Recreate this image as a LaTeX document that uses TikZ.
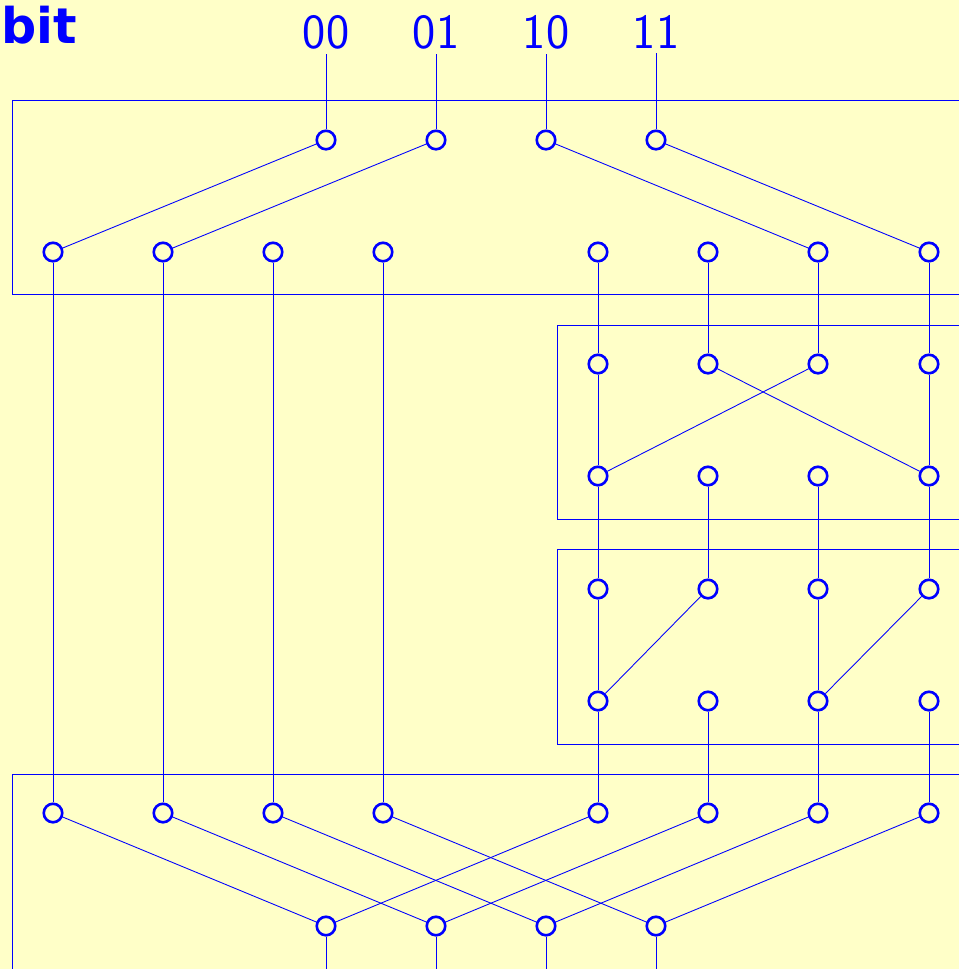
\documentclass[tikz,border=0pt]{standalone}
\usepackage{fontspec}
\newfontfamily\bitfont{DejaVu Sans}
\definecolor{Wire}{HTML}{0000FF}
\definecolor{Pad}{HTML}{FFFFC8}
\tikzset{
  qnode/.style={
    circle, draw=Wire, line width=1.5pt, fill=Pad,
    minimum size=3.7mm, inner sep=0pt
  },
  keylabel/.style={
    text=Wire, font=\sffamily\fontsize{28}{28}\selectfont,
    inner sep=1mm, anchor=base
  },
  wire/.style={draw=Wire, line width=0.5pt},
  stage/.style={draw=Wire, line width=0.45pt}
}

\begin{document}
\begin{tikzpicture}[x=0.2mm,y=-0.2mm]
    \fill[Pad] (0,0) rectangle (959,969);
    \useasboundingbox (0,0) rectangle (959,969);
    \clip (0,0) rectangle (959,969);
    % stage frames
    \draw[stage] (12,100) rectangle (980,294);
    \draw[stage] (557,325) rectangle (980,519);
    \draw[stage] (557,549) rectangle (980,744);
    \draw[stage] (12,774) rectangle (980,990);
    % labels
    \node[anchor=base west, inner sep=0pt, text=Wire,
          font=\bitfont\bfseries\fontsize{28}{28}\selectfont] (title) at (1,43) {bit};
    \node[keylabel] (l0) at (326,48) {00};
    \node[keylabel] (l1) at (436,48) {01};
    \node[keylabel] (l2) at (546,48) {10};
    \node[keylabel] (l3) at (656,48) {11};
    % nodes
    \foreach \i/\x in {0/326,1/436,2/546,3/656} {
      \node[qnode] (a\i) at (\x,140) {};
      \node[qnode] (h\i) at (\x,926) {};
      \coordinate (o\i) at (\x,975);
    }
    \foreach \i/\x in {0/53,1/163,2/273,3/383,4/598,5/708,6/818,7/929} {
      \node[qnode] (b\i) at (\x,252) {};
      \node[qnode] (g\i) at (\x,813) {};
    }
    \foreach \i/\x in {4/598,5/708,6/818,7/929} {
      \node[qnode] (c\i) at (\x,364) {};
      \node[qnode] (d\i) at (\x,476) {};
      \node[qnode] (e\i) at (\x,589) {};
      \node[qnode] (f\i) at (\x,701) {};
    }
    % wires
    \foreach \i in {0,1,2,3} {
      \draw[wire] (l\i.south) -- (a\i);
      \draw[wire] (b\i) -- (g\i);
      \draw[wire] (h\i) -- (o\i);
    }
    \draw[wire] (a0) -- (b0);
    \draw[wire] (a1) -- (b1);
    \draw[wire] (a2) -- (b6);
    \draw[wire] (a3) -- (b7);
    \foreach \i in {4,5,6,7} {
      \draw[wire] (b\i) -- (c\i);
      \draw[wire] (d\i) -- (e\i);
      \draw[wire] (f\i) -- (g\i);
    }
    \draw[wire] (c4) -- (d4);
    \draw[wire] (c5) -- (d7);
    \draw[wire] (c6) -- (d4);
    \draw[wire] (c7) -- (d7);
    \draw[wire] (e4) -- (f4);
    \draw[wire] (e5) -- (f4);
    \draw[wire] (e6) -- (f6);
    \draw[wire] (e7) -- (f6);
    \draw[wire] (g0) -- (h0);
    \draw[wire] (g4) -- (h0);
    \draw[wire] (g1) -- (h1);
    \draw[wire] (g5) -- (h1);
    \draw[wire] (g2) -- (h2);
    \draw[wire] (g6) -- (h2);
    \draw[wire] (g3) -- (h3);
    \draw[wire] (g7) -- (h3);
  \end{tikzpicture}
\end{document}
